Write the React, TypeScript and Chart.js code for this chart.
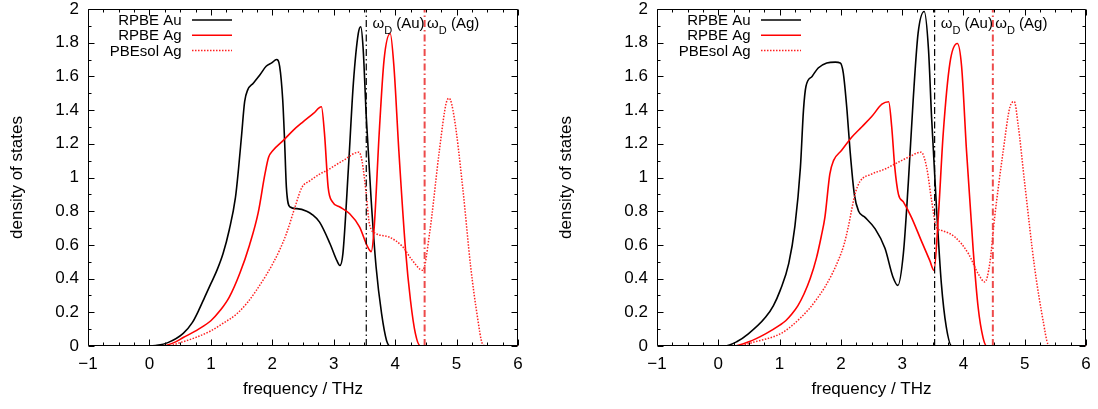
import React, { useEffect, useRef } from "react";
import { Chart, registerables } from "chart.js";
Chart.register(...registerables);

const FONT = "'Liberation Sans', Arial, Helvetica, sans-serif";

const xTickValues = [-1, 0, 1, 2, 3, 4, 5, 6];
const xTickLabels = ["\u22121", "0", "1", "2", "3", "4", "5", "6"];
const yTickValues = [0, 0.2, 0.4, 0.6, 0.8, 1, 1.2, 1.4, 1.6, 1.8, 2];
const yTickLabels = ["0", "0.2", "0.4", "0.6", "0.8", "1", "1.2", "1.4", "1.6", "1.8", "2"];
const xTitle = "frequency / THz";
const yTitle = "density of states";
const seriesNames = ["RPBE Au", "RPBE Ag", "PBEsol Ag"];
const debyeFreqs = [3.53, 4.48];
const debyeNames = ["Au", "Ag"];
const debyeLabelFreqs = [3.63, 4.52];
const debyeLabelDos = 1.89;

// Left panel (frequency THz, DOS)
const leftRpbeAu: number[][] = [
  [-0.5, 0], [0, 0], [0.1, 0.003], [0.3, 0.02], [0.55, 0.075], [0.7, 0.14], [0.8, 0.21],
  [0.9, 0.29], [1.0, 0.37], [1.1, 0.45], [1.2, 0.55], [1.3, 0.69], [1.4, 0.88],
  [1.45, 1.05], [1.5, 1.25], [1.55, 1.45], [1.6, 1.52], [1.69, 1.56], [1.8, 1.61],
  [1.9, 1.66], [1.99, 1.68], [2.07, 1.7], [2.12, 1.66], [2.17, 1.46], [2.2, 1.22],
  [2.23, 0.94], [2.29, 0.825], [2.4, 0.815], [2.56, 0.8], [2.65, 0.78], [2.77, 0.735],
  [2.94, 0.607], [3.05, 0.508], [3.1, 0.478], [3.15, 0.55], [3.24, 1.06], [3.32, 1.56],
  [3.4, 1.855], [3.44, 1.895], [3.48, 1.76], [3.53, 1.36], [3.61, 0.865], [3.69, 0.469],
  [3.78, 0.19], [3.86, 0.033], [3.92, 0], [6, 0],
];
const leftRpbeAg: number[][] = [
  [-0.5, 0], [0.2, 0], [0.4, 0.02], [0.55, 0.05], [0.8, 0.1], [1.0, 0.15], [1.15, 0.21],
  [1.3, 0.29], [1.47, 0.43], [1.63, 0.6], [1.77, 0.79], [1.88, 1.02], [1.94, 1.12],
  [2.01, 1.16], [2.18, 1.22], [2.34, 1.28], [2.5, 1.33], [2.67, 1.38], [2.8, 1.42],
  [2.85, 1.26], [2.91, 0.94], [2.98, 0.855], [3.1, 0.825], [3.26, 0.785], [3.42, 0.707],
  [3.55, 0.59], [3.61, 0.56], [3.66, 0.71], [3.74, 1.26], [3.82, 1.7], [3.92, 1.855],
  [3.98, 1.66], [4.06, 1.16], [4.17, 0.567], [4.25, 0.27], [4.33, 0.073], [4.41, 0], [6, 0],
];
const leftPbesolAg: number[][] = [
  [-0.5, 0], [0.3, 0], [0.5, 0.02], [0.75, 0.05], [1.0, 0.09], [1.2, 0.135], [1.42, 0.19],
  [1.6, 0.26], [1.74, 0.33], [1.9, 0.42], [2.01, 0.49], [2.12, 0.57], [2.23, 0.667],
  [2.37, 0.825], [2.48, 0.94], [2.61, 0.98], [2.77, 1.02], [2.88, 1.04], [3.15, 1.1],
  [3.41, 1.15], [3.46, 1.1], [3.53, 0.9], [3.58, 0.727], [3.69, 0.667], [3.9, 0.647],
  [4.12, 0.59], [4.28, 0.508], [4.45, 0.449], [4.56, 0.667], [4.72, 1.16], [4.83, 1.44],
  [4.88, 1.47], [4.96, 1.36], [5.1, 0.94], [5.23, 0.469], [5.34, 0.172], [5.42, 0.014],
  [5.48, 0], [6, 0],
];

// Right panel
const rightRpbeAu: number[][] = [
  [-0.5, 0], [0.1, 0], [0.3, 0.025], [0.49, 0.072], [0.77, 0.17], [0.9, 0.24], [1.01, 0.33],
  [1.15, 0.49], [1.25, 0.71], [1.34, 1.06], [1.39, 1.4], [1.43, 1.54], [1.53, 1.6],
  [1.63, 1.65], [1.77, 1.68], [1.91, 1.685], [1.99, 1.68], [2.04, 1.62], [2.1, 1.4],
  [2.15, 1.16], [2.22, 0.9], [2.29, 0.8], [2.39, 0.765], [2.56, 0.695], [2.72, 0.58],
  [2.85, 0.41], [2.93, 0.36], [3.02, 0.549], [3.1, 0.965], [3.18, 1.46], [3.26, 1.855],
  [3.36, 1.985], [3.43, 1.76], [3.48, 1.36], [3.56, 0.825], [3.64, 0.37], [3.72, 0.113],
  [3.81, 0], [6, 0],
];
const rightRpbeAg: number[][] = [
  [-0.5, 0], [0.25, 0], [0.5, 0.025], [0.77, 0.072], [1.01, 0.125], [1.1, 0.15], [1.2, 0.19],
  [1.3, 0.24], [1.4, 0.31], [1.5, 0.4], [1.6, 0.52], [1.68, 0.65], [1.74, 0.765],
  [1.82, 1.02], [1.88, 1.1], [2.01, 1.16], [2.18, 1.24], [2.34, 1.3], [2.5, 1.36],
  [2.67, 1.435], [2.78, 1.45], [2.83, 1.3], [2.88, 1.06], [2.94, 0.9], [3.02, 0.855],
  [3.15, 0.765], [3.31, 0.627], [3.45, 0.508], [3.52, 0.449], [3.59, 0.765], [3.67, 1.26],
  [3.78, 1.68], [3.9, 1.795], [3.97, 1.66], [4.05, 1.16], [4.16, 0.567], [4.24, 0.23],
  [4.32, 0.05], [4.38, 0], [6, 0],
];
const rightPbesolAg: number[][] = [
  [-0.5, 0], [0.3, 0], [0.6, 0.025], [1.01, 0.072], [1.2, 0.12], [1.35, 0.17], [1.47, 0.215],
  [1.6, 0.275], [1.74, 0.35], [1.86, 0.43], [1.96, 0.51], [2.05, 0.6], [2.12, 0.705],
  [2.23, 0.9], [2.31, 0.975], [2.5, 1.02], [2.72, 1.05], [2.88, 1.08], [3.1, 1.12],
  [3.31, 1.15], [3.4, 1.06], [3.48, 0.865], [3.56, 0.705], [3.64, 0.686], [3.86, 0.647],
  [4.08, 0.549], [4.24, 0.43], [4.35, 0.38], [4.43, 0.49], [4.51, 0.765], [4.65, 1.16],
  [4.76, 1.42], [4.83, 1.45], [4.89, 1.32], [5.0, 0.965], [5.16, 0.47], [5.3, 0.15],
  [5.38, 0.01], [5.42, 0], [6, 0],
];

const seriesStyles = [
  { color: "#000000", width: 1.6, dash: [] as number[] },
  { color: "#ff0000", width: 1.6, dash: [] as number[] },
  { color: "#ff2020", width: 1.5, dash: [1.5, 1.5] },
];
const debyeStyles = [
  { color: "#000000", width: 1.2, dash: [7, 3, 1.5, 3] },
  { color: "rgba(235,55,55,0.9)", width: 2, dash: [7, 3, 1.5, 3] },
];

const CANVAS_W = 549;
const CANVAS_H = 409;
const PLOT_TOP = 9;
const PLOT_BOTTOM = 346;
const AXIS_FONT = 17;
const LEGEND_FONT = 15;

const decorPlugin = {
  id: "decor",
  afterDatasetsDraw(chart: any) {
    const { ctx, chartArea: a, scales } = chart;
    const x = scales.x;
    const y = scales.y;
    ctx.save();
    ctx.strokeStyle = "#000";
    ctx.lineWidth = 1;
    const L = Math.round(a.left) + 0.5;
    const R = Math.round(a.right) - 0.5;
    const T = Math.round(a.top) + 0.5;
    const B = Math.round(a.bottom) - 0.5;
    ctx.beginPath();
    ctx.rect(L, T, R - L, B - T);
    ctx.stroke();
    ctx.beginPath();
    for (let i = 0; i <= 28; i++) {
      const v = -1 + i * 0.25;
      const len = i % 4 === 0 ? 6 : 3;
      const px = Math.round(x.getPixelForValue(v)) + 0.5;
      ctx.moveTo(px, B);
      ctx.lineTo(px, B - len);
      ctx.moveTo(px, T);
      ctx.lineTo(px, T + len);
    }
    for (let i = 0; i <= 20; i++) {
      const v = i * 0.1;
      const len = i % 2 === 0 ? 6 : 3;
      const py = Math.round(y.getPixelForValue(v)) + 0.5;
      ctx.moveTo(L, py);
      ctx.lineTo(L + len, py);
      ctx.moveTo(R, py);
      ctx.lineTo(R - len, py);
    }
    ctx.stroke();

    // legend
    ctx.fillStyle = "#000";
    ctx.font = `${LEGEND_FONT}px ${FONT}`;
    ctx.textAlign = "right";
    ctx.textBaseline = "middle";
    for (let i = 0; i < seriesNames.length; i++) {
      const ry = a.top + 11 + i * 15.3;
      ctx.fillText(seriesNames[i], a.left + 93.5, ry + 1);
      const st = seriesStyles[i];
      ctx.save();
      ctx.strokeStyle = st.color;
      ctx.lineWidth = st.width;
      ctx.setLineDash(st.dash);
      ctx.beginPath();
      ctx.moveTo(a.left + 104, ry);
      ctx.lineTo(a.left + 144, ry);
      ctx.stroke();
      ctx.restore();
    }

    // Debye labels
    ctx.textAlign = "left";
    ctx.textBaseline = "alphabetic";
    const by = y.getPixelForValue(debyeLabelDos);
    for (let i = 0; i < debyeNames.length; i++) {
      let px = x.getPixelForValue(debyeLabelFreqs[i]);
      ctx.font = `15px ${FONT}`;
      ctx.fillText("\u03c9", px, by);
      px += ctx.measureText("\u03c9").width;
      ctx.font = `11px ${FONT}`;
      ctx.fillText("D", px, by + 6);
      px += ctx.measureText("D").width;
      ctx.font = `15px ${FONT}`;
      ctx.fillText(" (" + debyeNames[i] + ")", px, by);
    }
    ctx.restore();
  },
};

function toPoints(arr: number[][]) {
  return arr.map((p) => ({ x: p[0], y: p[1] }));
}

function Panel(props: { left: number; plotLeft: number; plotRight: number; series: number[][][] }) {
  const ref = useRef<HTMLCanvasElement | null>(null);
  useEffect(() => {
    const canvas = ref.current;
    if (!canvas) return;
    const datasets: any[] = props.series.map((s, i) => ({
      label: seriesNames[i],
      data: toPoints(s),
      borderColor: seriesStyles[i].color,
      borderWidth: seriesStyles[i].width,
      borderDash: seriesStyles[i].dash,
      pointRadius: 0,
      fill: false,
      cubicInterpolationMode: "monotone",
      order: 3 - i,
    }));
    debyeFreqs.forEach((f, i) => {
      datasets.push({
        label: "debye " + debyeNames[i],
        data: [{ x: f, y: 0 }, { x: f, y: 2 }],
        borderColor: debyeStyles[i].color,
        borderWidth: debyeStyles[i].width,
        borderDash: debyeStyles[i].dash,
        pointRadius: 0,
        fill: false,
        order: 0,
      });
    });
    const chart = new Chart(canvas, {
      type: "line",
      data: { datasets },
      options: {
        animation: false,
        responsive: false,
        devicePixelRatio: 1,
        events: [],
        layout: { padding: { top: PLOT_TOP, right: CANVAS_W - props.plotRight, left: 0, bottom: 0 } },
        plugins: { legend: { display: false }, tooltip: { enabled: false } },
        scales: {
          x: {
            type: "linear",
            min: -1,
            max: 6,
            grid: { display: false, drawTicks: false },
            border: { display: false },
            afterBuildTicks: (s: any) => {
              s.ticks = xTickValues.map((v) => ({ value: v }));
            },
            afterFit: (s: any) => {
              s.height = CANVAS_H - PLOT_BOTTOM;
              s.paddingLeft = 0;
              s.paddingRight = 0;
            },
            ticks: {
              autoSkip: false,
              maxRotation: 0,
              padding: 8,
              color: "#000",
              font: { family: FONT, size: AXIS_FONT },
              callback: (_v: any, i: number) => xTickLabels[i],
            },
            title: {
              display: true,
              text: xTitle,
              color: "#000",
              font: { family: FONT, size: AXIS_FONT },
              padding: { top: 0, bottom: 9 },
            },
          },
          y: {
            type: "linear",
            min: 0,
            max: 2,
            grid: { display: false, drawTicks: false },
            border: { display: false },
            afterBuildTicks: (s: any) => {
              s.ticks = yTickValues.map((v) => ({ value: v }));
            },
            afterFit: (s: any) => {
              s.width = props.plotLeft;
              s.paddingTop = 0;
              s.paddingBottom = 0;
            },
            ticks: {
              autoSkip: false,
              padding: 9,
              color: "#000",
              font: { family: FONT, size: AXIS_FONT },
              callback: (_v: any, i: number) => yTickLabels[i],
            },
            title: {
              display: true,
              text: yTitle,
              color: "#000",
              font: { family: FONT, size: AXIS_FONT },
              padding: { top: 7, bottom: 0 },
            },
          },
        },
      },
      plugins: [decorPlugin],
    } as any);
    return () => chart.destroy();
  }, []);
  return (
    <canvas
      ref={ref}
      width={CANVAS_W}
      height={CANVAS_H}
      style={{ position: "absolute", left: props.left, top: 0, width: CANVAS_W, height: CANVAS_H }}
    />
  );
}

export default function App() {
  return (
    <div style={{ position: "absolute", left: 0, top: 0, width: 1098, height: 409, background: "#fff" }}>
      <Panel left={0} plotLeft={88} plotRight={518} series={[leftRpbeAu, leftRpbeAg, leftPbesolAg]} />
      <Panel left={549} plotLeft={108} plotRight={537} series={[rightRpbeAu, rightRpbeAg, rightPbesolAg]} />
    </div>
  );
}
